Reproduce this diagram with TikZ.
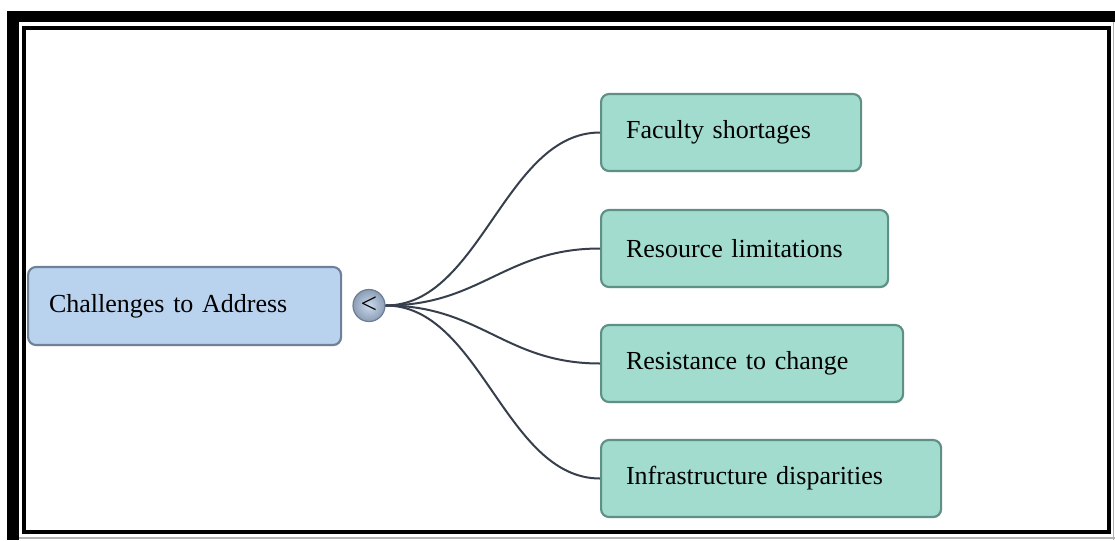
\documentclass[tikz,border=0pt]{standalone}
\usepackage{fontspec}
\setmainfont{Liberation Serif}
\usetikzlibrary{shadows}
\definecolor{bluefill}{HTML}{B9D2EE}
\definecolor{blueline}{HTML}{6F8199}
\definecolor{tealfill}{HTML}{A2DCCE}
\definecolor{tealline}{HTML}{5F9086}
\definecolor{connc}{HTML}{363F4B}
\definecolor{hubin}{HTML}{CCDAEC}
\definecolor{hubout}{HTML}{8B9EB6}
\definecolor{hubline}{HTML}{6D7D93}
\tikzset{
  boxbase/.style={rectangle, rounded corners=6pt, line width=1.6pt, align=left,
    anchor=west, font=\fontsize{19.5}{22}\selectfont,
    drop shadow={shadow xshift=0.6pt, shadow yshift=-0.9pt, opacity=0.25}},
  mainbox/.style={boxbase, fill=bluefill, draw=blueline, minimum height=58.5pt, inner xsep=15.75pt},
  leafbox/.style={boxbase, fill=tealfill, draw=tealline, minimum height=57.75pt, inner xsep=18.75pt},
  hub/.style={circle, minimum size=24pt, inner sep=0pt, inner color=hubin, outer color=hubout,
    draw=hubline, line width=0.9pt, font=\fontsize{22}{22}\selectfont},
  conn/.style={draw=connc, line width=1.5pt},
}
\begin{document}
\begin{tikzpicture}[x=0.75pt, y=-0.75pt]
\useasboundingbox (0,0) rectangle (1115,540);
% frame
\fill[black] (7,11) rectangle (19,540);
\fill[black] (7,11) rectangle (1115,22);
\draw[black, line width=3pt] (24,27.5) rectangle (1109,532);
\draw[gray!60, line width=1.2pt] (1113.5,22) -- (1113.5,540);
\draw[gray!60, line width=1.2pt] (19,538) -- (1115,538);
% nodes
\node[mainbox, text width=203.25pt] (main) at (27,306) {Challenges to Address};
\node[hub] (hub) at (369,305.5) {\raisebox{0.6pt}{<}};
\node[leafbox, text width=157.5pt] (f1) at (600,132.5) {Faculty shortages};
\node[leafbox, text width=177.75pt] (f2) at (600,248.5) {Resource limitations};
\node[leafbox, text width=189pt] (f3) at (600,363.5) {Resistance to change};
\node[leafbox, text width=217.5pt] (f4) at (600,478.5) {Infrastructure disparities};
% connectors
\foreach \t in {f1,f2,f3,f4}{
  \draw[conn] (hub.east) .. controls +(95,0) and +(-95,0) .. (\t.west);
}
\end{tikzpicture}
\end{document}
